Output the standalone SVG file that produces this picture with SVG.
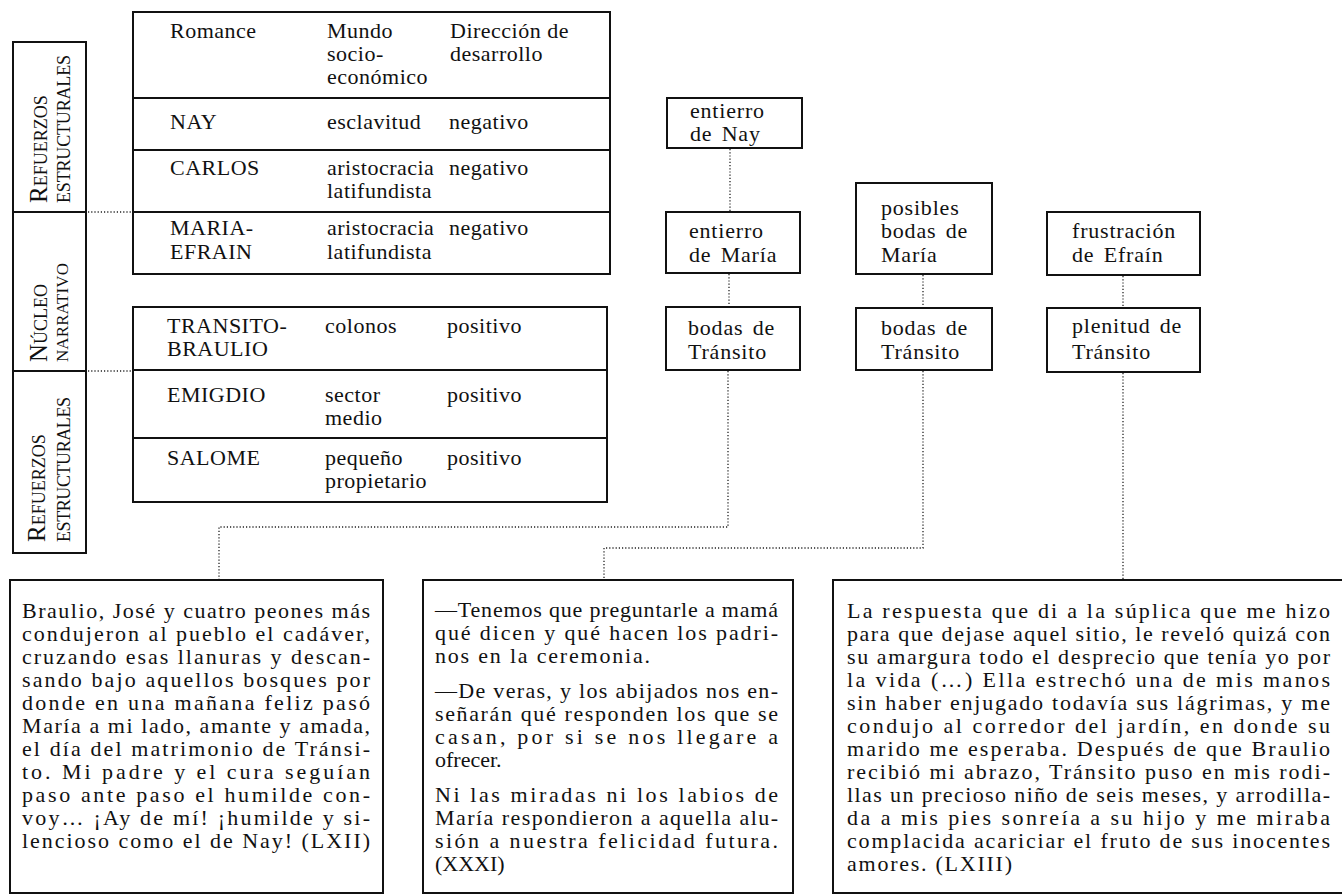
<svg xmlns="http://www.w3.org/2000/svg" width="1342" height="895" viewBox="0 0 1342 895">
<style>
.t{font-family:"Liberation Serif","Times New Roman",serif;font-size:22px;fill:#111;letter-spacing:0.5px}
.n{font-family:"Liberation Serif","Times New Roman",serif;font-size:22px;fill:#111;letter-spacing:0.8px;word-spacing:3px}
.p{font-family:"Liberation Serif","Times New Roman",serif;font-size:22px;fill:#111}
.v{font-family:"Liberation Serif","Times New Roman",serif;fill:#111}
.box{fill:#fff;stroke:#111;stroke-width:2}
.ln{fill:none;stroke:#111;stroke-width:2}
.dot{fill:none;stroke:#222;stroke-width:1.3;stroke-dasharray:1.2 2}
</style>
<rect width="1342" height="895" fill="#fff"/>

<g id="legend-column">
  <rect class="box" x="13" y="42" width="73" height="511"/>
  <line class="ln" x1="13" y1="212" x2="86" y2="212"/>
  <line class="ln" x1="13" y1="371" x2="86" y2="371"/>
  <text class="v" transform="translate(47,203) rotate(-90)"><tspan font-size="25">R</tspan><tspan font-size="18">EFUERZOS</tspan></text>
  <text class="v" transform="translate(70,203) rotate(-90)" font-size="18" textLength="148" lengthAdjust="spacing">ESTRUCTURALES</text>
  <text class="v" transform="translate(47,362) rotate(-90)"><tspan font-size="25">N</tspan><tspan font-size="18">ÚCLEO</tspan></text>
  <text class="v" transform="translate(68,362) rotate(-90)" font-size="17" textLength="99" lengthAdjust="spacing">NARRATIVO</text>
  <text class="v" transform="translate(45,542) rotate(-90)"><tspan font-size="25">R</tspan><tspan font-size="18">EFUERZOS</tspan></text>
  <text class="v" transform="translate(70,542) rotate(-90)" font-size="18" textLength="145" lengthAdjust="spacing">ESTRUCTURALES</text>
</g>

<g id="table-negative">
  <rect class="box" x="133" y="12" width="477" height="262"/>
  <line class="ln" x1="133" y1="98" x2="610" y2="98"/>
  <line class="ln" x1="133" y1="150" x2="610" y2="150"/>
  <line class="ln" x1="133" y1="212" x2="610" y2="212"/>
  <text class="t" x="170" y="38">Romance</text>
  <text class="t" x="327" y="38">Mundo<tspan x="327" y="61">socio-</tspan><tspan x="327" y="84">económico</tspan></text>
  <text class="t" x="450" y="38">Dirección de<tspan x="450" y="61">desarrollo</tspan></text>
  <text class="t" x="170" y="129">NAY</text>
  <text class="t" x="327" y="129">esclavitud</text>
  <text class="t" x="449" y="129">negativo</text>
  <text class="t" x="170" y="175">CARLOS</text>
  <text class="t" x="327" y="175">aristocracia<tspan x="327" y="198">latifundista</tspan></text>
  <text class="t" x="449" y="175">negativo</text>
  <text class="t" x="170" y="235">MARIA-<tspan x="170" y="259">EFRAIN</tspan></text>
  <text class="t" x="327" y="235">aristocracia<tspan x="327" y="259">latifundista</tspan></text>
  <text class="t" x="449" y="235">negativo</text>
</g>

<g id="table-positive">
  <rect class="box" x="133" y="307" width="474" height="195"/>
  <line class="ln" x1="133" y1="370" x2="607" y2="370"/>
  <line class="ln" x1="133" y1="438" x2="607" y2="438"/>
  <text class="t" x="167" y="333">TRANSITO-<tspan x="167" y="356">BRAULIO</tspan></text>
  <text class="t" x="325" y="333">colonos</text>
  <text class="t" x="447" y="333">positivo</text>
  <text class="t" x="167" y="402">EMIGDIO</text>
  <text class="t" x="325" y="402">sector<tspan x="325" y="425">medio</tspan></text>
  <text class="t" x="447" y="402">positivo</text>
  <text class="t" x="167" y="465">SALOME</text>
  <text class="t" x="325" y="465">pequeño<tspan x="325" y="488">propietario</tspan></text>
  <text class="t" x="447" y="465">positivo</text>
</g>

<g id="connectors">
  <line class="dot" x1="88" y1="212" x2="131" y2="212"/>
  <line class="dot" x1="88" y1="371" x2="131" y2="371"/>
  <line class="dot" x1="730" y1="149" x2="730" y2="211"/>
  <line class="dot" x1="729" y1="274" x2="729" y2="306"/>
  <polyline class="dot" points="728,371 728,527 219,527 219,579"/>
  <line class="dot" x1="923" y1="275" x2="923" y2="307"/>
  <polyline class="dot" points="923,371 923,548 604,548 604,579"/>
  <line class="dot" x1="1123" y1="276" x2="1123" y2="307"/>
  <line class="dot" x1="1123" y1="373" x2="1123" y2="579"/>
</g>

<g id="node-entierro-nay">
  <rect class="box" x="667" y="98" width="135" height="50"/>
  <text class="n" x="690" y="118">entierro<tspan x="690" y="141">de Nay</tspan></text>
</g>
<g id="node-entierro-maria">
  <rect class="box" x="666" y="212" width="134" height="61"/>
  <text class="n" x="689" y="238">entierro<tspan x="689" y="262">de María</tspan></text>
</g>
<g id="node-bodas-transito-1">
  <rect class="box" x="666" y="307" width="134" height="63"/>
  <text class="n" x="688" y="335">bodas de<tspan x="688" y="359">Tránsito</tspan></text>
</g>
<g id="node-posibles-bodas">
  <rect class="box" x="856" y="183" width="136" height="91"/>
  <text class="n" x="881" y="215">posibles<tspan x="881" y="238">bodas de</tspan><tspan x="881" y="262">María</tspan></text>
</g>
<g id="node-bodas-transito-2">
  <rect class="box" x="856" y="308" width="136" height="62"/>
  <text class="n" x="881" y="335">bodas de<tspan x="881" y="359">Tránsito</tspan></text>
</g>
<g id="node-frustracion">
  <rect class="box" x="1047" y="212" width="153" height="63"/>
  <text class="n" x="1072" y="238">frustración<tspan x="1072" y="262">de Efraín</tspan></text>
</g>
<g id="node-plenitud">
  <rect class="box" x="1047" y="308" width="153" height="64"/>
  <text class="n" x="1072" y="333">plenitud de<tspan x="1072" y="359">Tránsito</tspan></text>
</g>

<g id="passage-LXII">
  <rect class="box" x="10" y="580" width="373" height="313"/>
  <text class="p" x="22" y="618" textLength="348" lengthAdjust="spacing">Braulio, José y cuatro peones más</text>
  <text class="p" x="22" y="641" textLength="348" lengthAdjust="spacing">condujeron al pueblo el cadáver,</text>
  <text class="p" x="22" y="664" textLength="348" lengthAdjust="spacing">cruzando esas llanuras y descan-</text>
  <text class="p" x="22" y="687" textLength="348" lengthAdjust="spacing">sando bajo aquellos bosques por</text>
  <text class="p" x="22" y="710" textLength="348" lengthAdjust="spacing">donde en una mañana feliz pasó</text>
  <text class="p" x="22" y="733" textLength="348" lengthAdjust="spacing">María a mi lado, amante y amada,</text>
  <text class="p" x="22" y="756" textLength="348" lengthAdjust="spacing">el día del matrimonio de Tránsi-</text>
  <text class="p" x="22" y="779" textLength="348" lengthAdjust="spacing">to. Mi padre y el cura seguían</text>
  <text class="p" x="22" y="802" textLength="348" lengthAdjust="spacing">paso ante paso el humilde con-</text>
  <text class="p" x="22" y="825" textLength="348" lengthAdjust="spacing">voy… ¡Ay de mí!  ¡humilde y si-</text>
  <text class="p" x="22" y="848" textLength="348" lengthAdjust="spacing">lencioso como el de Nay! (LXII)</text>
</g>

<g id="passage-XXXI">
  <rect class="box" x="423" y="580" width="370" height="313"/>
  <text class="p" x="435" y="617" textLength="343" lengthAdjust="spacing">—Tenemos que preguntarle a mamá</text>
  <text class="p" x="435" y="640" textLength="343" lengthAdjust="spacing">qué dicen y qué hacen los padri-</text>
  <text class="p" x="435" y="663" textLength="215" lengthAdjust="spacing">nos en la ceremonia.</text>
  <text class="p" x="435" y="698" textLength="343" lengthAdjust="spacing">—De veras, y los abijados nos en-</text>
  <text class="p" x="435" y="721" textLength="343" lengthAdjust="spacing">señarán qué responden los que se</text>
  <text class="p" x="435" y="744" textLength="343" lengthAdjust="spacing">casan, por si se nos llegare a</text>
  <text class="p" x="435" y="767">ofrecer.</text>
  <text class="p" x="435" y="802" textLength="343" lengthAdjust="spacing">Ni las miradas ni los labios de</text>
  <text class="p" x="435" y="825" textLength="343" lengthAdjust="spacing">María respondieron a aquella alu-</text>
  <text class="p" x="435" y="848" textLength="343" lengthAdjust="spacing">sión a nuestra felicidad futura.</text>
  <text class="p" x="435" y="871">(XXXI)</text>
</g>

<g id="passage-LXIII">
  <rect class="box" x="833" y="580" width="520" height="313"/>
  <text class="p" x="847" y="618" textLength="483" lengthAdjust="spacing">La respuesta que di a la súplica que me hizo</text>
  <text class="p" x="847" y="641" textLength="483" lengthAdjust="spacing">para que dejase aquel sitio, le reveló quizá con</text>
  <text class="p" x="847" y="664" textLength="483" lengthAdjust="spacing">su amargura todo el desprecio que tenía yo por</text>
  <text class="p" x="847" y="687" textLength="483" lengthAdjust="spacing">la vida (…) Ella estrechó una de mis manos</text>
  <text class="p" x="847" y="710" textLength="483" lengthAdjust="spacing">sin haber enjugado todavía sus lágrimas, y me</text>
  <text class="p" x="847" y="733" textLength="483" lengthAdjust="spacing">condujo al corredor del jardín, en donde su</text>
  <text class="p" x="847" y="756" textLength="483" lengthAdjust="spacing">marido me esperaba. Después de que Braulio</text>
  <text class="p" x="847" y="779" textLength="483" lengthAdjust="spacing">recibió mi abrazo, Tránsito puso en mis rodi-</text>
  <text class="p" x="847" y="802" textLength="483" lengthAdjust="spacing">llas un precioso niño de seis meses, y arrodilla-</text>
  <text class="p" x="847" y="825" textLength="483" lengthAdjust="spacing">da a mis pies sonreía a su hijo y me miraba</text>
  <text class="p" x="847" y="848" textLength="483" lengthAdjust="spacing">complacida acariciar el fruto de sus inocentes</text>
  <text class="p" x="847" y="871" textLength="165" lengthAdjust="spacing">amores. (LXIII)</text>
</g>
</svg>
